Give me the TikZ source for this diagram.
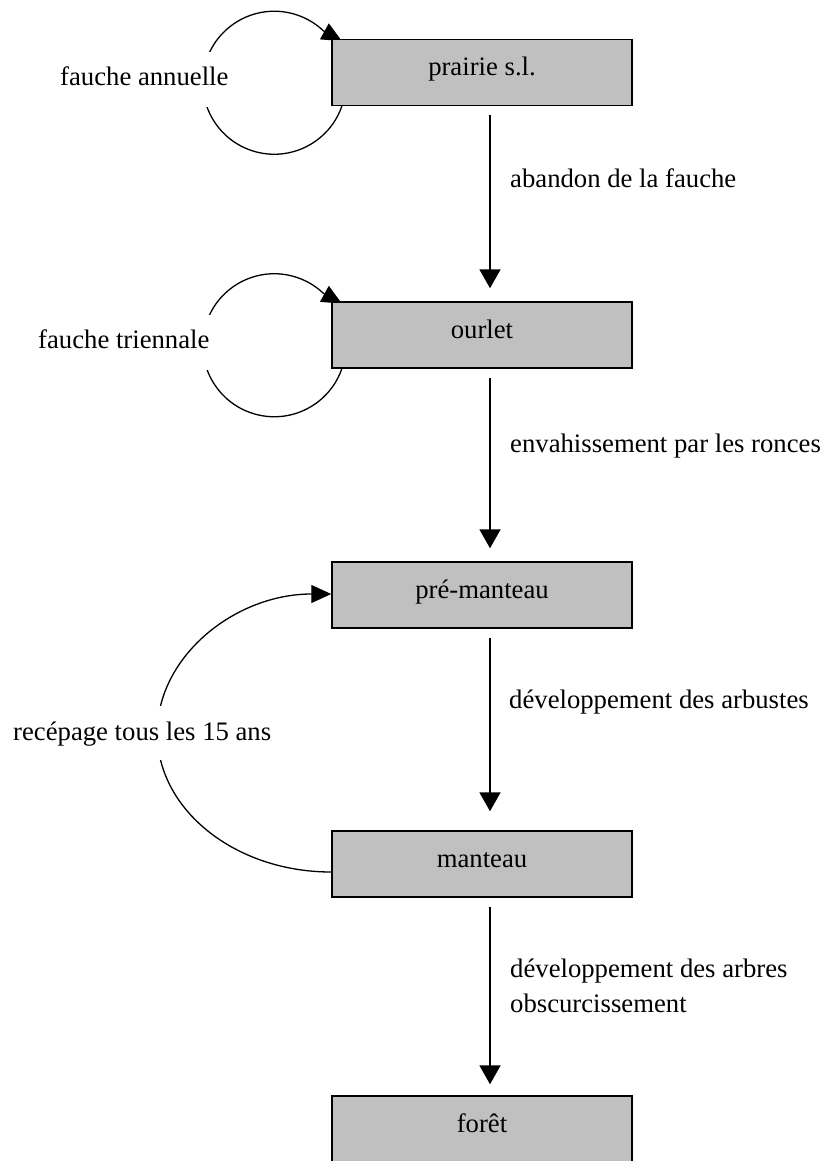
\documentclass[tikz,border=0pt]{standalone}
\usepackage{fontspec}
\setmainfont{Liberation Serif}
\usetikzlibrary{arrows.meta}
\pgfdeclarelayer{bg}
\pgfsetlayers{bg,main}
\newcommand\diagfont{\fontsize{26.7}{35}\selectfont}
\definecolor{boxgray}{RGB}{192,192,192}
\begin{document}
\begin{tikzpicture}[x=1pt,y=1pt,
  stagebox/.style={draw=black, line width=1.5pt, fill=boxgray, minimum width=300pt,
    minimum height=66pt, inner sep=0pt, text height=18pt, text depth=11pt, font=\diagfont},
  flowarrow/.style={line width=2pt, -{Triangle[length=19pt,width=21pt]}},
  looparrow/.style={line width=1.3pt, -{Triangle[length=20pt,width=18pt]}},
  arrowlabel/.style={anchor=base west, inner sep=0pt, font=\diagfont},
  looplabel/.style={anchor=base west, fill=white, inner xsep=3pt, inner ysep=0pt, font=\diagfont}]
\useasboundingbox (0,0) rectangle (824,-1161);

% stages
\node[stagebox] (prairie) at (482,-72.5) {prairie s.l.};
\node[stagebox] (ourlet) at (482,-335) {ourlet};
\node[stagebox] (premanteau) at (482,-595) {pré-manteau};
\node[stagebox] (manteau) at (482,-864) {manteau};
\node[stagebox] (foret) at (482,-1129) {forêt};

% loop labels (white background cuts the loops)
\node[looplabel, text height=34pt, text depth=21pt] (lfa) at (57,-86) {fauche annuelle};
\node[looplabel, text height=33pt, text depth=22pt] (lft) at (35,-348) {fauche triennale};
\node[looplabel, text height=34pt, text depth=20pt] (lrc) at (10,-740) {recépage tous les 15 ans};

% arrow labels
\node[arrowlabel] (l1) at (510,-188) {abandon de la fauche};
\node[arrowlabel] (l2) at (510,-452) {envahissement par les ronces};
\node[arrowlabel] (l3) at (509,-708) {développement des arbustes};
\node[arrowlabel] (l4) at (510,-977) {développement des arbres};
\node[arrowlabel] (l5) at (510,-1012) {obscurcissement};

\begin{pgfonlayer}{bg}
  % main succession arrows
  \draw[flowarrow] ([xshift=8pt,yshift=-9pt]prairie.south) -- ([xshift=8pt,yshift=13pt]ourlet.north);
  \draw[flowarrow] ([xshift=8pt,yshift=-9pt]ourlet.south) -- ([xshift=8pt,yshift=13pt]premanteau.north);
  \draw[flowarrow] ([xshift=8pt,yshift=-9pt]premanteau.south) -- ([xshift=8pt,yshift=19pt]manteau.north);
  \draw[flowarrow] ([xshift=8pt,yshift=-9pt]manteau.south) -- ([xshift=8pt,yshift=11pt]foret.north);
  % self loops
  \draw[looparrow] ([shift={(12.1,-62.5)}]prairie.north west)
     arc[start angle=-15, end angle=-313.5, radius=71.5] -- ++(-29:21);
  \draw[looparrow] ([shift={(12.1,-62.5)}]ourlet.north west)
     arc[start angle=-15, end angle=-313.5, radius=71.5] -- ++(-29:21);
  % coppicing loop
  \draw[looparrow] ([yshift=-8pt]manteau.west)
     arc[start angle=270, end angle=90, x radius=174, y radius=139];
\end{pgfonlayer}
\end{tikzpicture}
\end{document}
